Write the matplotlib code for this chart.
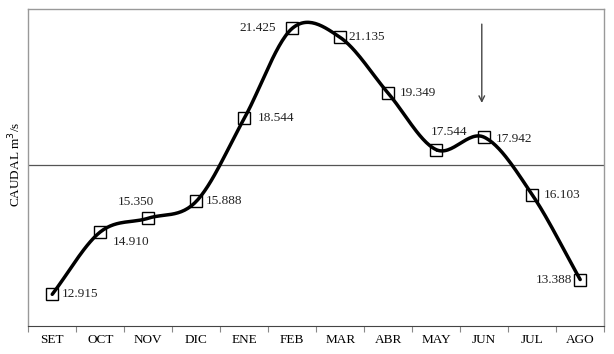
import numpy as np
import matplotlib.pyplot as plt
import matplotlib.ticker as ticker

months = ['SET', 'OCT', 'NOV', 'DIC', 'ENE', 'FEB', 'MAR', 'ABR', 'MAY', 'JUN', 'JUL', 'AGO']
caudal = [12.915, 14.910, 15.350, 15.888, 18.544, 21.425, 21.135, 19.349, 17.544, 17.942, 16.103, 13.388]
labels = ['12.915', '14.910', '15.350', '15.888', '18.544', '21.425',
          '21.135', '19.349', '17.544', '17.942', '16.103', '13.388']

# label offsets in points (dx, dy) and alignment
label_pos = [(7, 0, 'left'), (9, -7, 'left'), (-22, 12, 'left'), (7, 0, 'left'),
             (10, 0, 'left'), (-12, 0, 'right'), (6, 0, 'left'), (8, 0, 'left'),
             (-4, 13, 'left'), (8, -1, 'left'), (8, 0, 'left'), (-6, 0, 'right')]


def catmull_rom(x, y, n=30):
    # smoothed line like spreadsheet "smooth line" option
    x = np.asarray(x, float)
    y = np.asarray(y, float)
    px = np.concatenate([[2 * x[0] - x[1]], x, [2 * x[-1] - x[-2]]])
    py = np.concatenate([[2 * y[0] - y[1]], y, [2 * y[-1] - y[-2]]])
    xs, ys = [], []
    t = np.linspace(0, 1, n)
    for i in range(1, len(px) - 2):
        for p, out in ((px, xs), (py, ys)):
            p0, p1, p2, p3 = p[i - 1], p[i], p[i + 1], p[i + 2]
            out.extend(0.5 * ((2 * p1) + (-p0 + p2) * t
                              + (2 * p0 - 5 * p1 + 4 * p2 - p3) * t ** 2
                              + (-p0 + 3 * p1 - 3 * p2 + p3) * t ** 3))
    return np.array(xs), np.array(ys)


plt.rcParams['font.family'] = ['Liberation Serif', 'DejaVu Serif']

fig = plt.figure(figsize=(6.14, 3.54), dpi=100)
ax = fig.add_axes([0.046, 0.079, 0.938, 0.896])

x = np.arange(len(months))
sx, sy = catmull_rom(x, caudal)
ax.plot(sx, sy, color='black', lw=2.5, solid_capstyle='round', zorder=3)
ax.plot(x, caudal, ls='none', marker='s', ms=8, mfc='none', mec='black', mew=1.0, zorder=4)

# mean line
ax.axhline(np.mean(caudal), color='#555555', lw=0.9, zorder=1)

for xi, yi, lab, (dx, dy, ha) in zip(x, caudal, labels, label_pos):
    ax.annotate(lab, xy=(xi, yi), xytext=(dx, dy), textcoords='offset points',
                ha=ha, va='center', fontsize=9.5, color='#222222')

# arrow above JUN
ax.annotate('', xy=(8.95, 18.95), xytext=(8.95, 21.65),
            arrowprops=dict(arrowstyle='->', color='#444444', lw=1.0))

ax.set_xlim(-0.5, 11.5)
ax.set_ylim(11.9, 22.05)

ax.xaxis.set_major_locator(ticker.FixedLocator(np.arange(-0.5, 12, 1)))
ax.xaxis.set_major_formatter(ticker.NullFormatter())
ax.xaxis.set_minor_locator(ticker.FixedLocator(x))
ax.xaxis.set_minor_formatter(ticker.FixedFormatter(months))
ax.tick_params(axis='x', which='major', direction='out', length=4, color='#888888')
ax.tick_params(axis='x', which='minor', length=0, labelsize=9.5, pad=6)
ax.set_yticks([])

for side in ['left', 'top', 'right']:
    ax.spines[side].set_color('#999999')
    ax.spines[side].set_linewidth(1.0)
ax.spines['bottom'].set_color('#444444')

fig.text(0.024, 0.535, 'CAUDAL m$^3$/s', rotation=90, ha='center', va='center', fontsize=9.5)

plt.savefig('out.png', dpi=100)
